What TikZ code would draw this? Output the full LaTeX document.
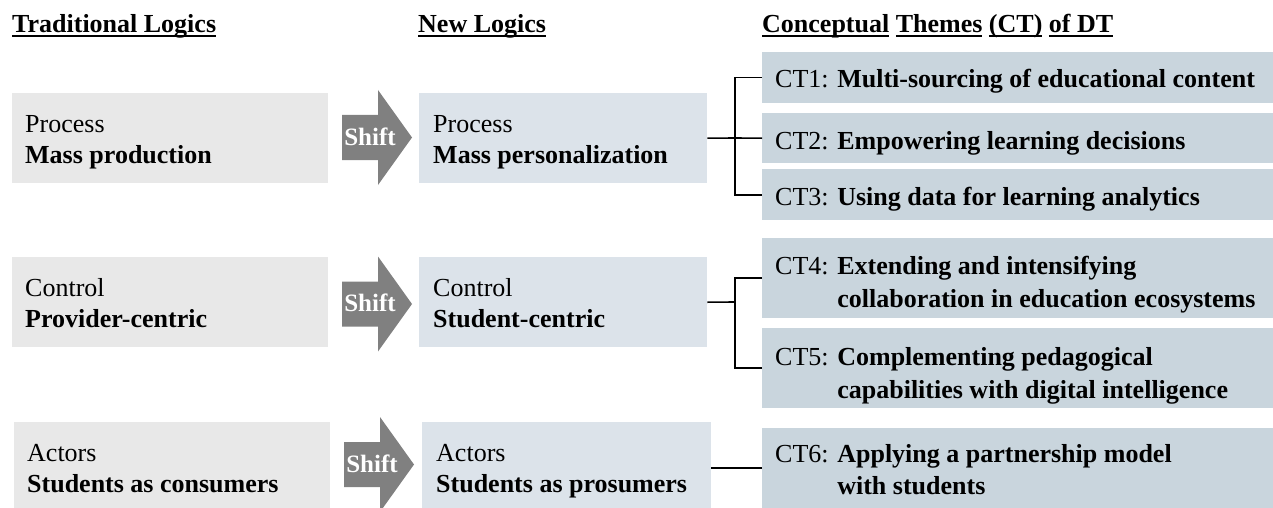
\documentclass[tikz,border=0pt]{standalone}
\usepackage{fontspec}
\setmainfont{Liberation Serif}
\definecolor{oldgray}{HTML}{E8E8E8}
\definecolor{newblue}{HTML}{DCE3EA}
\definecolor{ctblue}{HTML}{C9D5DD}
\definecolor{arrowgray}{HTML}{808080}
% underline with a fixed offset below the baseline
\newsavebox\ulinebox
\newcommand\ulx[1]{\sbox\ulinebox{#1}\rlap{\rule[-4pt]{\wd\ulinebox}{2pt}}\usebox\ulinebox}
\begin{document}
\begin{tikzpicture}[x=1pt,y=-1pt,
  txt/.style={inner sep=0pt, anchor=base west, font=\fontsize{26}{31}\selectfont},
  btxt/.style={txt, font=\fontsize{26}{31}\selectfont\bfseries},
  oldbox/.style={fill=oldgray, inner sep=0pt, anchor=north west, minimum width=316pt, minimum height=90pt},
  newbox/.style={fill=newblue, inner sep=0pt, anchor=north west, minimum width=288pt, minimum height=90pt},
  ctbox/.style={fill=ctblue, inner sep=0pt, anchor=north west, minimum width=511pt},
  conn/.style={draw=black, line width=1.6pt},
  shifttxt/.style={inner sep=0pt, anchor=base, text=white, font=\fontsize{25}{28}\selectfont\bfseries},
  shiftarr/.pic={
    \fill[arrowgray] (0,-22.5) -- (36,-22.5) -- (36,-47.5) -- (70,0) -- (36,47.5) -- (36,22.5) -- (0,22.5) -- cycle;
    \node[shifttxt] (-t) at (28,7.5) {Shift};
  }
]
\useasboundingbox (0,0) rectangle (1273,508);

% column headings
\node[btxt] (h1) at (12,33) {\ulx{Traditional Logics}};
\node[btxt] (h2) at (418,33) {\ulx{New Logics}};
\node[btxt] (h3) at (762,33) {\ulx{Conceptual} \ulx{Themes} \ulx{(CT)} \ulx{of DT}};

% traditional logics
\node[oldbox] (A1) at (12,93) {};
\node[oldbox] (A2) at (12,257) {};
\node[oldbox, minimum height=86pt] (A3) at (14,422) {};
\node[txt]  (a1a) at (25,132.5) {Process};
\node[btxt] (a1b) at (25,163) {Mass production};
\node[txt]  (a2a) at (25,296.5) {Control};
\node[btxt] (a2b) at (25,327) {Provider-centric};
\node[txt]  (a3a) at (27,461.5) {Actors};
\node[btxt] (a3b) at (27,492) {Students as consumers};

% shift arrows
\pic (s1) at (342,137.5) {shiftarr};
\pic (s2) at (342,304) {shiftarr};
\pic (s3) at (344,464.5) {shiftarr};

% new logics
\node[newbox] (B1) at (419,93) {};
\node[newbox] (B2) at (419,257) {};
\node[newbox, minimum width=289pt, minimum height=86pt] (B3) at (422,422) {};
\node[txt]  (b1a) at (433,132.5) {Process};
\node[btxt] (b1b) at (433,163) {Mass personalization};
\node[txt]  (b2a) at (433,296.5) {Control};
\node[btxt] (b2b) at (433,327) {Student-centric};
\node[txt]  (b3a) at (436,461.5) {Actors};
\node[btxt] (b3b) at (436,492) {Students as prosumers};

% conceptual themes
\node[ctbox, minimum height=51pt] (CT1) at (762,52) {};
\node[ctbox, minimum height=50pt] (CT2) at (762,113) {};
\node[ctbox, minimum height=51pt] (CT3) at (762,169) {};
\node[ctbox, minimum height=80pt] (CT4) at (762,238) {};
\node[ctbox, minimum height=80pt] (CT5) at (762,328) {};
\node[ctbox, minimum height=80pt] (CT6) at (762,428) {};

\node[txt] (c1) at (775,88) {CT1: \textbf{Multi-sourcing of educational content}};
\node[txt] (c2) at (775,149) {CT2: \textbf{Empowering learning decisions}};
\node[txt] (c3) at (775,205.5) {CT3: \textbf{Using data for learning analytics}};
\node[txt] (c4a) at (775,274) {CT4: \textbf{Extending and intensifying}};
\node[txt] (c4b) at (775,307) {\hphantom{CT4: }\textbf{collaboration in education ecosystems}};
\node[txt] (c5a) at (775,365) {CT5: \textbf{Complementing pedagogical}};
\node[txt] (c5b) at (775,398) {\hphantom{CT5: }\textbf{capabilities with digital intelligence}};
\node[txt] (c6a) at (775,462) {CT6: \textbf{Applying a partnership model}};
\node[txt] (c6b) at (775,494) {\hphantom{CT6: }\textbf{with students}};

% connectors
\coordinate (j1) at (735,138);
\coordinate (j2) at (735,302);
\draw[conn] (B1.east) -- (j1) -- (CT2.west);
\draw[conn] (CT1.west) -| (j1);
\draw[conn] (CT3.west) -| (j1);
\draw[conn] (B2.east) -- (j2);
\draw[conn] (CT4.west) -| (j2);
\draw[conn] (CT5.west) -| (j2);
\draw[conn] (CT6.west) -- (CT6.west -| B3.east);
\end{tikzpicture}
\end{document}
